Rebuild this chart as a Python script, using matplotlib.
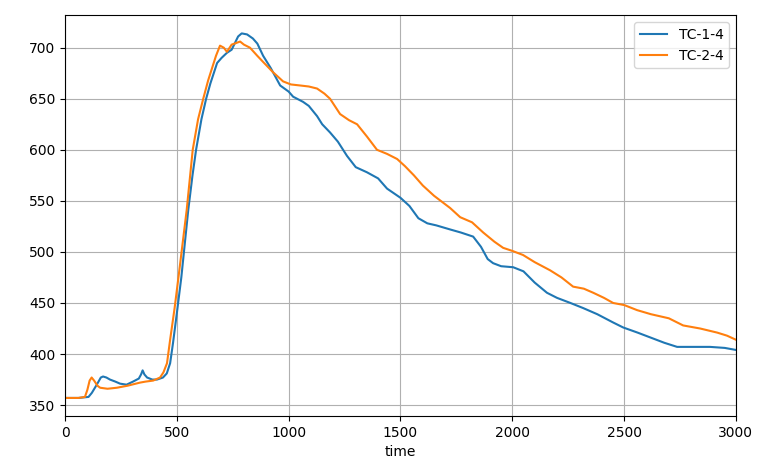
import numpy as np
import matplotlib.pyplot as plt

# TC-1-4 (blue)
t1 = [0, 60, 105, 120, 142, 160, 170, 185, 201, 225, 246, 275, 304, 330, 340, 347, 355, 367,
      390, 411, 438, 455, 470, 483, 500, 520, 551, 570, 586, 610, 631, 650, 671, 680, 700,
      724, 745, 774, 790, 814, 840, 860, 886, 920, 962, 1000, 1020, 1064, 1090, 1127, 1150,
      1185, 1220, 1261, 1300, 1350, 1400, 1440, 1500, 1540, 1580, 1620, 1660, 1722, 1770,
      1825, 1860, 1890, 1914, 1950, 2004, 2050, 2100, 2155, 2200, 2260, 2317, 2380, 2450,
      2496, 2560, 2620, 2680, 2737, 2800, 2884, 2950, 3000]
v1 = [357, 357, 358, 362, 370, 377, 378, 377, 375, 373, 371, 370, 373, 376, 380, 384, 380, 377,
      375, 375, 377, 381, 391, 411, 440, 475, 541, 575, 600, 630, 650, 665, 679, 685, 690,
      695, 698, 711, 714, 713, 709, 704, 692, 680, 663, 657, 652, 647, 643, 633, 625,
      617, 608, 594, 583, 578, 572, 562, 553, 545, 533, 528, 526, 522, 519,
      515, 505, 493, 489, 486, 485, 481, 470, 460, 455, 450, 445, 439, 431,
      426, 421, 416, 411, 407, 407, 407, 406, 404]

# TC-2-4 (orange)
t2 = [0, 60, 89, 100, 110, 119, 130, 145, 157, 190, 232, 280, 335, 360, 394, 425, 440, 456,
      470, 490, 510, 544, 571, 595, 618, 640, 656, 675, 693, 710, 724, 745, 783, 800, 827,
      860, 886, 930, 975, 1010, 1051, 1090, 1127, 1160, 1185, 1230, 1270, 1306, 1350, 1395,
      1440, 1485, 1520, 1560, 1600, 1650, 1722, 1767, 1820, 1870, 1920, 1959, 2000, 2048,
      2100, 2169, 2220, 2272, 2320, 2362, 2410, 2451, 2500, 2558, 2620, 2700, 2764, 2840,
      2916, 2960, 3000]
v2 = [357, 357, 358, 365, 374, 377, 374, 369, 367, 366, 367, 369, 372, 373, 374, 377, 382, 391,
      414, 445, 480, 541, 600, 630, 650, 668, 679, 692, 702, 700, 696, 703, 706, 703, 700,
      692, 686, 676, 667, 664, 663, 662, 660, 655, 650, 635, 629, 625, 613, 600,
      596, 591, 584, 575, 565, 555, 543, 534, 529, 519, 510, 504, 501, 497,
      490, 482, 475, 466, 464, 460, 455, 450, 448, 443, 439, 435, 428, 425,
      421, 418, 414]

fig = plt.figure(figsize=(7.65, 4.74), dpi=100)
ax = fig.add_axes([0.085, 0.122, 0.877, 0.846])
ax.plot(t1, v1, label='TC-1-4')
ax.plot(t2, v2, label='TC-2-4')
ax.set_xlim(0, 3000)
ax.set_xlabel('time')
ax.grid(True)
ax.legend(loc='upper right')
plt.savefig('out.png', dpi=100)
